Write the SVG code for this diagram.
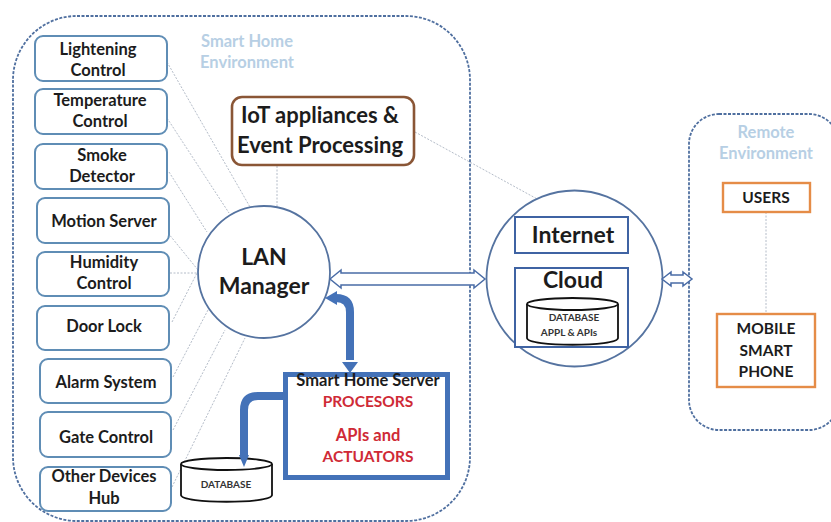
<svg xmlns="http://www.w3.org/2000/svg" width="831" height="522" viewBox="0 0 831 522">
<style>
text{font-family:Lato,"Liberation Sans",sans-serif;font-weight:700;fill:#1c1c1c;text-anchor:middle;font-size:16.500px}
.env{fill:none;stroke:#4f6f9f;stroke-width:1.800;stroke-dasharray:3 1.500}
.dev{fill:#fff;stroke:#5f8db5;stroke-width:2}
.dot{fill:none;stroke:#b4bcc8;stroke-width:1;stroke-dasharray:2 1.500}
.circ{fill:#fff;stroke:#5573a0;stroke-width:1.800}
.blue{fill:#fff;stroke:#3f63a3;stroke-width:2}
.org{fill:#fff;stroke:#e58c47;stroke-width:2.400}
.db{fill:#fff;stroke:#111;stroke-width:1.800}
.big{font-size:23px}
.iot{font-size:22px}
.cap{font-size:15.500px}
.lab{fill:#b7cfe4}
.red{fill:#cf2a36}
.sm{font-size:10px;fill:#333}
.thick{fill:none;stroke:#4472b8;stroke-width:8}
.head{fill:#4472b8}
.dbl{fill:#fff;stroke:#4a6ca6;stroke-width:1.500}
</style>
<rect id="smart-home-environment" class="env" x="13" y="16" width="457" height="505" rx="64"/>
<rect id="remote-environment" class="env" x="689" y="114" width="150" height="316" rx="30"/>
<g id="connectors">
<path class="dot" d="M167 62L250 207M167 118L229 213M169 172L207 232M168 233L198 270M170 273H198M172 322L197 273M173 377L208 310M173 430L225 330M172 487L245 338M277 166V207M415 132L570 217M766 212V314"/>
</g>
<g id="lan-manager"><circle class="circ" cx="264" cy="272" r="66"/><text class="big" x="264" y="265">LAN</text><text class="big" x="264" y="294">Manager</text></g>
<g id="internet-cloud"><circle class="circ" cx="574.500" cy="278.500" r="88"/></g>
<g id="connectors-arrows">
<path class="dbl" d="M330 279L341 270V273H474V270L485 279L474 288V285H341V288Z"/>
<path class="dbl" d="M662 279L671 272V275H683V272L692 279L683 286V283H671V286Z"/>
<path class="thick" d="M350 360V312Q350 298 336 298H332"/>
<polygon class="head" points="325,298 337,291 337,305"/>
<polygon class="head" points="350,373 342,362 358,362"/>
<path class="thick" d="M288 396H258Q244 396 244 410V458"/>
</g>
<g id="lightening"><rect class="dev" x="35" y="36" width="132" height="45" rx="8"/><text x="98" y="55">Lightening</text><text x="98" y="76">Control</text></g>
<g id="temperature"><rect class="dev" x="35" y="89" width="132" height="45" rx="8"/><text x="100" y="106">Temperature</text><text x="100" y="127">Control</text></g>
<g id="smoke"><rect class="dev" x="35" y="144" width="132" height="45" rx="8"/><text x="102" y="161">Smoke</text><text x="102" y="182">Detector</text></g>
<g id="motion"><rect class="dev" x="37" y="198" width="132" height="45" rx="8"/><text x="104" y="227">Motion Server</text></g>
<g id="humidity"><rect class="dev" x="37" y="252" width="132" height="44" rx="8"/><text x="104" y="268">Humidity</text><text x="104" y="289">Control</text></g>
<g id="door-lock"><rect class="dev" x="37" y="306" width="132" height="44" rx="8"/><text x="104" y="332">Door Lock</text></g>
<g id="alarm"><rect class="dev" x="40" y="359" width="131" height="44" rx="8"/><text x="106" y="388">Alarm System</text></g>
<g id="gate"><rect class="dev" x="40" y="412" width="131" height="45" rx="8"/><text x="106" y="443">Gate Control</text></g>
<g id="other"><rect class="dev" x="40" y="467" width="131" height="44" rx="8"/><text x="104" y="482">Other Devices</text><text x="104" y="504">Hub</text></g>
<g id="smart-home-label"><text class="lab" x="247" y="47">Smart Home</text><text class="lab" x="247" y="68">Environment</text></g>
<g id="iot"><rect x="232" y="97" width="182" height="68" rx="10" fill="#fff" stroke="#8a5636" stroke-width="2.600"/><text class="iot" x="320" y="123">IoT appliances &amp;</text><text class="iot" x="320" y="153">Event Processing</text></g>
<g id="server"><rect x="285.500" y="374.500" width="162" height="103" fill="#fff" stroke="#4472b8" stroke-width="5"/><text x="368" y="386">Smart Home Server</text><text class="red cap" x="368" y="407">PROCESORS</text><text class="red" x="368" y="441">APIs and</text><text class="red cap" x="368" y="462">ACTUATORS</text></g>
<g id="database"><path class="db" d="M181 464V495C181 504 272 504 272 495V464"/><ellipse class="db" cx="226.500" cy="464" rx="45.500" ry="6"/><text class="sm" x="226" y="488">DATABASE</text></g>
<polygon class="head" points="244,467 239,455 249,455"/>
<g id="internet"><rect class="blue" x="515" y="217" width="113" height="36"/><text class="big" x="573" y="243">Internet</text></g>
<g id="cloud"><rect class="blue" x="515" y="268" width="113" height="79"/><text class="big" x="573" y="288">Cloud</text><path class="db" d="M527 304V338C527 347 618 347 618 338V304"/><ellipse class="db" cx="572.500" cy="304" rx="45.500" ry="6"/><text class="sm" x="574" y="321">DATABASE</text><text class="sm" x="569" y="336">APPL &amp; APIs</text></g>
<g id="remote-label"><text class="lab" x="766" y="138">Remote</text><text class="lab" x="766" y="159">Environment</text></g>
<g id="users"><rect class="org" x="723" y="183" width="87" height="29"/><text class="cap" x="766" y="203">USERS</text></g>
<g id="mobile"><rect class="org" x="717" y="314" width="98" height="73"/><text class="cap" x="766" y="334">MOBILE</text><text class="cap" x="766" y="356">SMART</text><text class="cap" x="766" y="377">PHONE</text></g>
</svg>
